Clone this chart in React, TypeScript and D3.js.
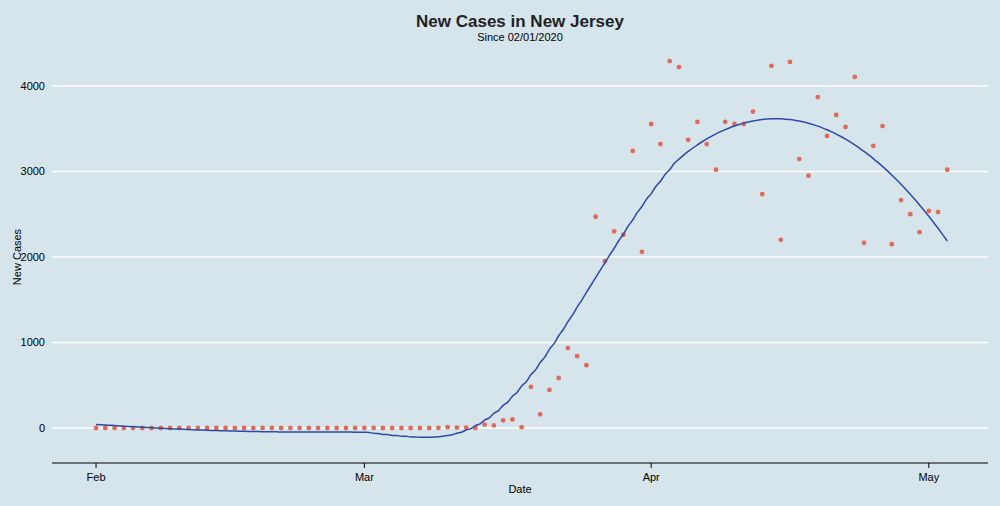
import { useEffect } from "react";
import * as d3 from "d3";

// daily new cases in NJ starting 02/01/2020 (day index 0)
const leadingZeros = 36;
const cases: number[] = [
  ...new Array(leadingZeros).fill(0),
  0, 2, 10, 5, 5, 0, 40, 30, 90, 100, 10, 480, 160, 445, 585, 935, 840, 735,
  2470, 1950, 2300, 2260, 3240, 2060, 3555, 3320, 4290, 4220, 3370, 3580, 3320,
  3020, 3580, 3555, 3555, 3700, 2735, 4235, 2200, 4280, 3145, 2950, 3870, 3415,
  3660, 3520, 4105, 2165, 3300, 3530, 2150, 2665, 2500, 2290, 2540, 2525, 3020,
];
const monthTicks = [0, 29, 60, 90];
const monthLabels = ["Feb", "Mar", "Apr", "May"];
const yTicks = [0, 1000, 2000, 3000, 4000];

// loess, degree 2, tricube weights
function loess(xs: number[], ys: number[], span: number, evalX: number[]) {
  const n = xs.length;
  const q = Math.floor(span * n);
  return evalX.map((x0) => {
    const dists = xs.map((x) => Math.abs(x - x0)).sort((a, b) => a - b);
    const h = dists[q - 1] * 1.0001;
    const S = Array.from({ length: 3 }, () => [0, 0, 0]);
    const b = [0, 0, 0];
    for (let i = 0; i < n; i++) {
      const u = Math.abs(xs[i] - x0) / h;
      if (u >= 1) continue;
      const w = Math.pow(1 - u * u * u, 3);
      const t = xs[i] - x0;
      const p = [1, t, t * t];
      for (let r = 0; r < 3; r++) {
        b[r] += w * p[r] * ys[i];
        for (let c = 0; c < 3; c++) S[r][c] += w * p[r] * p[c];
      }
    }
    for (let k = 0; k < 3; k++) {
      for (let r = k + 1; r < 3; r++) {
        const f = S[r][k] / S[k][k];
        for (let c = k; c < 3; c++) S[r][c] -= f * S[k][c];
        b[r] -= f * b[k];
      }
    }
    const sol = [0, 0, 0];
    for (let r = 2; r >= 0; r--) {
      let s = b[r];
      for (let c = r + 1; c < 3; c++) s -= S[r][c] * sol[c];
      sol[r] = s / S[r][r];
    }
    return sol[0];
  });
}

const App = () => {
  useEffect(() => {
    document.body.style.margin = "0";
  }, []);

  const width = 1000;
  const height = 506;
  const x = d3.scaleLinear().domain([-4.76, 96.4]).range([52, 988]);
  const y = d3.scaleLinear().domain([-409, 4420]).range([463, 50]);
  const days = cases.map((_, i) => i);
  const evalX = d3.range(0, cases.length - 1 + 0.001, 0.5);
  const fit = loess(days, cases, 0.65, evalX);
  const line = d3
    .line<number>()
    .x((_, i) => x(evalX[i]))
    .y((d) => y(d))
    .curve(d3.curveMonotoneX);

  const bg = "#d6e4eb";
  const font = "Liberation Sans, Arial, sans-serif";

  return (
    <svg width={width} height={height} style={{ display: "block", fontFamily: font }}>
      <rect width={width} height={height} fill={bg} />
      {yTicks.map((t) => (
        <g key={t}>
          <line x1={52} x2={988} y1={y(t)} y2={y(t)} stroke="#ffffff" strokeWidth={1.6} />
          <text x={45} y={y(t) + 4} textAnchor="end" fontSize={11} fill="#000">
            {t}
          </text>
        </g>
      ))}
      <line x1={52} x2={988} y1={463} y2={463} stroke="#000" strokeWidth={1} />
      {monthTicks.map((t, i) => (
        <g key={t}>
          <line x1={x(t)} x2={x(t)} y1={463} y2={468} stroke="#000" />
          <text x={x(t)} y={481} textAnchor="middle" fontSize={11} fill="#000">
            {monthLabels[i]}
          </text>
        </g>
      ))}
      {cases.map((c, i) => (
        <circle key={i} cx={x(i)} cy={y(c)} r={2.4} fill="#e06a57" />
      ))}
      <path d={line(fit) ?? ""} fill="none" stroke="#2d4aa5" strokeWidth={1.5} />
      <text x={520} y={27} textAnchor="middle" fontSize={17} fontWeight="bold" fill="#222">
        New Cases in New Jersey
      </text>
      <text x={520} y={41} textAnchor="middle" fontSize={11} fill="#000">
        Since 02/01/2020
      </text>
      <text x={520} y={493} textAnchor="middle" fontSize={11} fill="#000">
        Date
      </text>
      <text
        transform="translate(21,257) rotate(-90)"
        textAnchor="middle"
        fontSize={11}
        fill="#000"
      >
        New Cases
      </text>
    </svg>
  );
};

export default App;
